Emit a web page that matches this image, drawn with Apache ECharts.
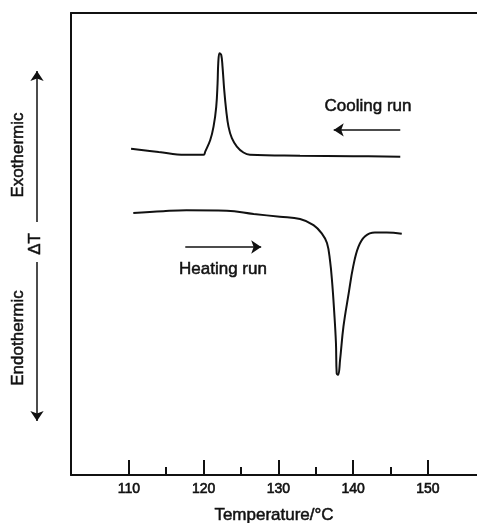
<!DOCTYPE html>
<html>
<head>
<meta charset="utf-8">
<script src="https://cdn.jsdelivr.net/npm/echarts@6/dist/echarts.min.js"></script>
<style>
  html, body { margin: 0; padding: 0; background: #fff; }
  #main { width: 477px; height: 523px; }
</style>
</head>
<body>
<div id="main"></div>
<script>
// cooling run (upper trace), temperature in degC, dT in arbitrary units
var coolTemp = [110.3, 114.0, 117.5, 120.0, 120.22, 120.89, 121.33, 121.69, 121.87, 121.96, 122.13, 122.36, 122.53, 122.76, 123.02, 123.33, 123.78, 124.45, 125.33, 126.2, 132.9, 140.0, 146.3];
var coolDT = [70.6, 69.9, 69.3, 69.3, 70.0, 72.5, 75.4, 79.7, 84.8, 89.1, 91.3, 90.9, 88.4, 83.3, 79.0, 75.4, 72.9, 71.1, 69.8, 69.3, 69.1, 69.0, 68.9];

// heating run (lower trace)
var heatTemp = [110.6, 114.6, 117.7, 123.1, 126.7, 130.2, 132.9, 134.7, 135.8, 136.5, 136.9, 137.2, 137.45, 137.7, 137.8, 138.0, 138.25, 138.7, 139.4, 140.0, 140.7, 141.6, 142.9, 144.5, 146.5];
var heatDT = [56.7, 57.1, 57.3, 57.2, 56.5, 55.9, 55.4, 54.1, 52.3, 50.2, 46.5, 41.5, 35.7, 28.5, 22.0, 21.7, 24.9, 32.1, 39.3, 45.1, 49.4, 51.7, 52.5, 52.5, 52.2];

var majorTicks = [110, 120, 130, 140, 150];
var minorTicks = [115, 125, 135, 145];

function pairs(xs, ys) {
  var out = [];
  for (var i = 0; i < xs.length; i++) out.push([xs[i], ys[i]]);
  return out;
}

var font = '"Liberation Sans", Arial, sans-serif';
var ink = '#111';

// slightly heavier than regular, like the scanned lettering
function label(text, x, y, rot) {
  return {
    type: 'text', x: x, y: y, rotation: rot || 0,
    style: {
      text: text, fill: ink, font: '17px ' + font,
      stroke: ink, lineWidth: 0.5,
      textAlign: 'center', textVerticalAlign: 'middle'
    }
  };
}

var myChart = echarts.init(document.getElementById('main'));

var option = {
  backgroundColor: '#fff',
  animation: false,
  grid: { left: 71, top: 13, right: 0, bottom: 48, outerBoundsMode: 'none' },
  xAxis: [
    {
      type: 'value', position: 'bottom', min: 102.27, max: 156.56,
      axisLine: { lineStyle: { color: ink, width: 2 } },
      axisTick: { inside: true, length: 15, customValues: majorTicks, lineStyle: { color: ink, width: 2 } },
      axisLabel: {
        customValues: majorTicks, color: ink, fontSize: 14, fontFamily: font, margin: 7,
        textBorderColor: ink, textBorderWidth: 0.6
      },
      splitLine: { show: false },
      name: 'Temperature/°C', nameLocation: 'middle', nameGap: 32,
      nameTextStyle: { color: ink, fontSize: 17, fontFamily: font, textBorderColor: ink, textBorderWidth: 0.5 }
    },
    {
      type: 'value', position: 'bottom', min: 102.27, max: 156.56,
      axisLine: { show: false },
      axisTick: { inside: true, length: 8, customValues: minorTicks, lineStyle: { color: ink, width: 2 } },
      axisLabel: { show: false },
      splitLine: { show: false }
    },
    {
      type: 'value', position: 'top', min: 102.27, max: 156.56,
      axisLine: { lineStyle: { color: ink, width: 2 } },
      axisTick: { show: false },
      axisLabel: { show: false },
      splitLine: { show: false }
    }
  ],
  yAxis: {
    type: 'value', min: 0, max: 100,
    axisLine: { show: true, lineStyle: { color: ink, width: 2 } },
    axisTick: { show: false },
    axisLabel: { show: false },
    splitLine: { show: false },
    name: 'ΔT', nameLocation: 'middle', nameGap: 27, nameRotate: 90,
    nameTextStyle: { color: ink, fontSize: 17, fontFamily: font, textBorderColor: ink, textBorderWidth: 0.5 }
  },
  graphic: [
    label('Exothermic', 18, 155, Math.PI / 2),
    label('Endothermic', 18, 338, Math.PI / 2),
    label('Cooling run', 368, 106),
    label('Heating run', 223, 269)
  ],
  series: [
    {
      name: 'Cooling run', type: 'line', xAxisIndex: 0,
      data: pairs(coolTemp, coolDT),
      showSymbol: false, smooth: 0.4,
      lineStyle: { color: ink, width: 2 },
      markLine: {
        silent: true, symbol: ['none', 'arrow'], symbolSize: 10,
        label: { show: false },
        lineStyle: { color: ink, width: 1.5, type: 'solid' },
        data: [
          [{ x: 37, y: 222 }, { x: 37, y: 71 }],
          [{ coord: [146.3, 74.7] }, { coord: [137.4, 74.7] }]
        ]
      }
    },
    {
      name: 'Heating run', type: 'line', xAxisIndex: 0,
      data: pairs(heatTemp, heatDT),
      showSymbol: false, smooth: 0.4,
      lineStyle: { color: ink, width: 2 },
      markLine: {
        silent: true, symbol: ['none', 'arrow'], symbolSize: 10,
        label: { show: false },
        lineStyle: { color: ink, width: 1.5, type: 'solid' },
        data: [
          [{ x: 37, y: 262 }, { x: 37, y: 421 }],
          [{ coord: [117.55, 49.35] }, { coord: [127.7, 49.35] }]
        ]
      }
    }
  ]
};

myChart.setOption(option);
</script>
</body>
</html>
